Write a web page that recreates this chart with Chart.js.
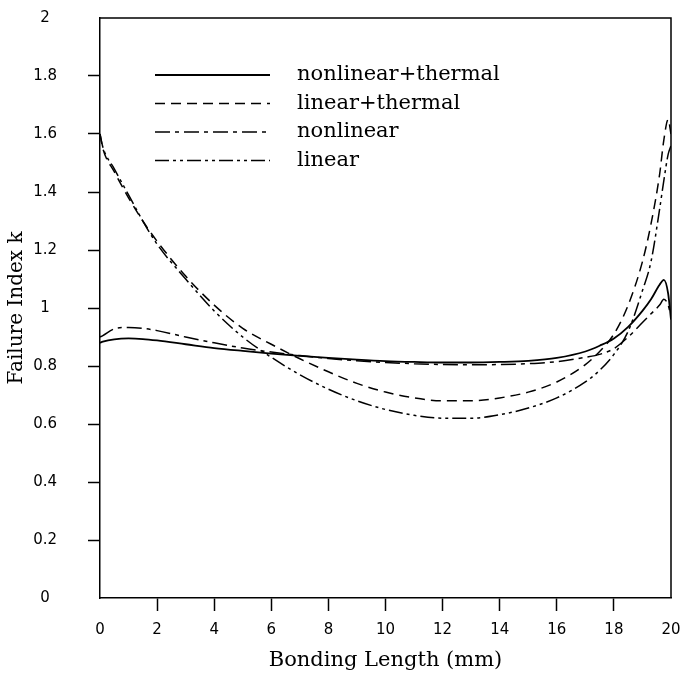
<!DOCTYPE html>
<html>
<head>
<meta charset="utf-8">
<script src="https://cdn.jsdelivr.net/npm/chart.js@4.4.0/dist/chart.umd.min.js"></script>
<style>
  html, body { margin: 0; padding: 0; background: #fff; }
</style>
</head>
<body>
<canvas id="chartLines" width="686" height="679"></canvas>
<script>
// bonding length positions (mm) and failure index of each case
let lengths          = [0,    0.1,   0.5,   1,     1.5,   2,     3,     4,     5,     6,     7,     8,     9,     10,    11,    12,    13,    14,    15,    16,    17,    17.5,  18,    18.5,  19,    19.3,  19.6,  19.75, 19.9,  20];
let nonlinearThermal = [0.88, 0.884, 0.892, 0.895, 0.893, 0.888, 0.875, 0.862, 0.852, 0.843, 0.835, 0.828, 0.822, 0.817, 0.814, 0.812, 0.812, 0.814, 0.818, 0.828, 0.85,  0.87,  0.895, 0.935, 0.99,  1.03,  1.08,  1.097, 1.05,  0.96];
let linearThermal    = [1.6,  1.55,  1.47,  1.38,  1.30,  1.23,  1.11,  1.01,  0.93,  0.875, 0.825, 0.78,  0.74,  0.71,  0.69,  0.68,  0.68,  0.69,  0.71,  0.745, 0.805, 0.85,  0.91,  1.01,  1.16,  1.29,  1.46,  1.58,  1.65,  1.6];
let nonlinear        = [0.9,  0.905, 0.928, 0.933, 0.93,  0.922, 0.9,   0.88,  0.862, 0.848, 0.836, 0.826, 0.818, 0.812, 0.808, 0.805, 0.804, 0.805, 0.808, 0.815, 0.83,  0.84,  0.86,  0.9,   0.95,  0.98,  1.01,  1.03,  1.01,  0.97];
let linear           = [1.6,  1.555, 1.48,  1.39,  1.30,  1.22,  1.10,  0.99,  0.90,  0.83,  0.77,  0.72,  0.68,  0.65,  0.63,  0.62,  0.62,  0.632, 0.655, 0.69,  0.745, 0.785, 0.84,  0.92,  1.06,  1.16,  1.34,  1.44,  1.53,  1.56];

let labels = ['nonlinear+thermal', 'linear+thermal', 'nonlinear', 'linear'];
let series = [nonlinearThermal, linearThermal, nonlinear, linear];
let dashes = [[], [10, 6], [15, 5, 4, 5], [14, 4, 3, 4, 3, 4]];
let widths = [1.8, 1.5, 1.5, 1.5];

// legend inside the box + top/right frame
let legendBox = {
  id: 'legendBox',
  afterDraw(chart) {
    let ctx = chart.ctx;
    let area = chart.chartArea;
    ctx.save();
    ctx.strokeStyle = '#000';
    ctx.lineWidth = 1.5;
    ctx.beginPath();
    ctx.moveTo(area.left, area.top);
    ctx.lineTo(area.right, area.top);
    ctx.lineTo(area.right, area.bottom);
    ctx.stroke();

    ctx.font = '21px "DejaVu Serif"';
    ctx.textBaseline = 'middle';
    ctx.fillStyle = '#000';
    chart.data.datasets.forEach((ds, i) => {
      let y = area.top + 57 + i * 28.5;
      ctx.setLineDash(ds.borderDash);
      ctx.lineWidth = ds.borderWidth;
      ctx.beginPath();
      ctx.moveTo(area.left + 55, y);
      ctx.lineTo(area.left + 170, y);
      ctx.stroke();
      ctx.setLineDash([]);
      ctx.fillText(ds.label, area.left + 197, y);
    });
    ctx.restore();
  }
};

let endTick = (ctx) => (ctx.index === 0 || ctx.index === ctx.scale.ticks.length - 1) ? 'rgba(0,0,0,0)' : '#000';

let chartLines = new Chart(document.getElementById('chartLines').getContext('2d'), {
  type: 'line',
  data: {
    datasets: labels.map((label, i) => ({
      label: label,
      data: lengths.map((x, j) => ({ x: x, y: series[i][j] })),
      borderColor: '#000',
      borderWidth: widths[i],
      borderDash: dashes[i],
      pointRadius: 0,
      fill: false,
      cubicInterpolationMode: 'monotone'
    }))
  },
  options: {
    responsive: false,
    animation: false,
    devicePixelRatio: 1,
    layout: { padding: { left: 0, right: 15, top: 18, bottom: 0 } },
    plugins: {
      legend: { display: false },
      tooltip: { enabled: false }
    },
    scales: {
      x: {
        type: 'linear',
        min: 0,
        max: 20,
        afterFit: (s) => { s.height = 81; s.paddingLeft = 0; s.paddingRight = 0; },
        ticks: {
          stepSize: 2,
          color: '#000',
          padding: 10,
          maxRotation: 0,
          font: { family: 'DejaVu Sans', size: 15 }
        },
        grid: { drawOnChartArea: false, tickLength: 13, tickWidth: 1.5, tickColor: endTick },
        border: { color: '#000', width: 1.5 },
        title: {
          display: true,
          text: 'Bonding Length (mm)',
          color: '#000',
          font: { family: 'DejaVu Serif', size: 21 },
          padding: { top: 0, bottom: 6 }
        }
      },
      y: {
        min: 0,
        max: 2,
        afterFit: (s) => { s.width = 100; s.paddingTop = 0; s.paddingBottom = 0; },
        ticks: {
          stepSize: 0.2,
          color: '#000',
          padding: 31,
          crossAlign: 'center',
          font: { family: 'DejaVu Sans', size: 15 },
          callback: (v) => String(+v.toFixed(1))
        },
        grid: { drawOnChartArea: false, tickLength: 12, tickWidth: 1.5, tickColor: endTick },
        border: { color: '#000', width: 1.5 },
        title: {
          display: true,
          text: 'Failure Index k',
          color: '#000',
          font: { family: 'DejaVu Serif', size: 20 },
          padding: { top: 5, bottom: 0 }
        }
      }
    }
  },
  plugins: [legendBox]
});
</script>
</body>
</html>
